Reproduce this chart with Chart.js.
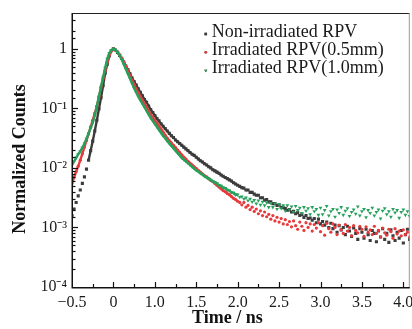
<!DOCTYPE html>
<html><head><meta charset="utf-8">
<script src="https://cdn.jsdelivr.net/npm/chart.js@4.4.1/dist/chart.umd.min.js"></script>
<style>html,body{margin:0;padding:0;background:#fff}canvas{display:block}</style>
</head><body>
<canvas id="c" width="412" height="329"></canvas>
<script>
// ---- data ----
const seriesNames = ['Non-irradiated RPV', 'Irradiated RPV(0.5mm)', 'Irradiated RPV(1.0mm)'];
// position along the time axis (axis tick positions: -0.5, 0, 0.5 ... 3.5)
const timeNs = [
 -0.5,-0.475,-0.45,-0.425,-0.4,-0.375,-0.35,-0.325,-0.3,-0.275,-0.25,-0.225,-0.2,-0.175,-0.15,-0.125,-0.1,-0.075,-0.05,-0.025,
 0,0.025,0.05,0.075,0.1,0.125,0.15,0.175,0.2,0.225,0.25,0.275,0.3,0.325,0.35,0.375,0.4,0.425,0.45,0.475,
 0.5,0.525,0.55,0.575,0.6,0.625,0.65,0.675,0.7,0.725,0.75,0.775,0.8,0.825,0.85,0.875,0.9,0.925,0.95,0.975,
 1,1.025,1.05,1.075,1.1,1.125,1.15,1.175,1.2,1.225,1.25,1.275,1.3,1.325,1.35,1.375,1.4,1.425,1.45,1.475,
 1.5,1.525,1.55,1.575,1.6,1.625,1.65,1.675,1.7,1.725,1.75,1.775,1.8,1.825,1.85,1.875,1.9,1.925,1.95,1.975,
 2,2.025,2.05,2.075,2.1,2.125,2.15,2.175,2.2,2.225,2.25,2.275,2.3,2.325,2.35,2.375,2.4,2.425,2.45,2.475,
 2.5,2.525,2.55,2.575,2.6,2.625,2.65,2.675,2.7,2.725,2.75,2.775,2.8,2.825,2.85,2.875,2.9,2.925,2.95,2.975,
 3,3.025,3.05,3.075,3.1,3.125,3.15,3.175,3.2,3.225,3.25,3.275,3.3,3.325,3.35,3.375,3.4,3.425,3.45,3.475,
 3.5,3.525,3.55,3.575
];
// normalized counts, stored as log10 (decades)
const nonIrradiatedLog10 = [
 -2.80,-2.69,-2.58,-2.47,-2.37,-2.26,-2.15,-2.02,-1.87,-1.71,-1.55,-1.38,-1.20,-1.01,-0.82,-0.62,-0.41,-0.26,-0.12,-0.03,
 0.00,-0.02,-0.06,-0.11,-0.16,-0.22,-0.29,-0.35,-0.42,-0.49,-0.55,-0.61,-0.67,-0.73,-0.79,-0.85,-0.90,-0.96,-1.02,-1.07,
 -1.12,-1.17,-1.21,-1.26,-1.30,-1.34,-1.38,-1.42,-1.46,-1.49,-1.53,-1.56,-1.59,-1.62,-1.65,-1.68,-1.71,-1.74,-1.77,-1.79,
 -1.82,-1.85,-1.88,-1.90,-1.93,-1.95,-1.98,-2.00,-2.03,-2.05,-2.07,-2.09,-2.12,-2.14,-2.16,-2.18,-2.20,-2.22,-2.25,-2.27,
 -2.29,-2.31,-2.33,-2.34,-2.37,-2.37,-2.41,-2.41,-2.44,-2.46,-2.46,-2.50,-2.50,-2.54,-2.53,-2.57,-2.57,-2.60,-2.60,-2.63,
 -2.62,-2.66,-2.67,-2.68,-2.71,-2.70,-2.74,-2.73,-2.77,-2.75,-2.80,-2.78,-2.83,-2.80,-2.85,-2.84,-2.88,-2.85,-2.92,-2.86,
 -2.94,-2.90,-2.96,-2.91,-3.00,-2.93,-3.02,-2.96,-3.08,-2.97,-3.04,-3.00,-3.12,-2.98,-3.06,-3.15,-3.01,-3.10,-3.20,-3.02,
 -3.08,-3.18,-3.03,-3.12,-3.22,-3.05,-3.10,-3.24,-3.06,-3.16,-3.02,-3.20,-3.10,-3.25,-3.04,-3.14,-3.22,-3.08,-3.18,-3.05,
 -3.26,-3.12,-3.03,-3.20
];
const irradiated05Log10 = [
 -2.26,-2.16,-2.06,-1.97,-1.87,-1.76,-1.65,-1.54,-1.43,-1.31,-1.20,-1.08,-0.97,-0.81,-0.65,-0.50,-0.36,-0.22,-0.11,-0.03,
 0.00,-0.02,-0.05,-0.10,-0.16,-0.23,-0.30,-0.37,-0.45,-0.53,-0.60,-0.67,-0.73,-0.80,-0.86,-0.92,-0.98,-1.04,-1.10,-1.15,
 -1.20,-1.25,-1.30,-1.35,-1.40,-1.45,-1.50,-1.54,-1.58,-1.62,-1.66,-1.70,-1.74,-1.78,-1.82,-1.85,-1.89,-1.92,-1.95,-1.98,
 -2.01,-2.04,-2.07,-2.10,-2.13,-2.15,-2.18,-2.21,-2.23,-2.26,-2.29,-2.32,-2.35,-2.38,-2.40,-2.43,-2.45,-2.48,-2.51,-2.53,
 -2.56,-2.58,-2.62,-2.58,-2.66,-2.63,-2.70,-2.66,-2.73,-2.69,-2.77,-2.72,-2.80,-2.74,-2.82,-2.78,-2.86,-2.80,-2.89,-2.83,
 -2.91,-2.85,-2.94,-2.87,-2.95,-2.90,-2.99,-2.89,-2.97,-3.03,-2.91,-2.98,-3.05,-2.92,-3.00,-2.94,-3.06,-2.95,-3.01,-2.92,
 -3.07,-2.97,-3.13,-2.93,-3.02,-3.08,-2.94,-3.00,-3.12,-2.96,-3.04,-3.10,-2.95,-3.06,-3.00,-3.14,-2.97,-3.05,-3.09,-2.98,
 -3.03,-3.15,-2.99,-3.08,-3.04,-3.12,-2.98,-3.10,-3.05,-3.16,-3.01,-3.09,-3.13,-3.03,-3.07,-3.18,-3.02,-3.11,-3.06,-3.14,
 -3.04,-3.12,-3.08,-3.16
];
const irradiated10Log10 = [
 -1.95,-1.89,-1.83,-1.77,-1.72,-1.66,-1.59,-1.51,-1.42,-1.33,-1.24,-1.12,-0.96,-0.80,-0.64,-0.48,-0.32,-0.17,-0.07,-0.02,
 0.00,-0.02,-0.06,-0.11,-0.18,-0.26,-0.34,-0.42,-0.50,-0.58,-0.66,-0.73,-0.80,-0.86,-0.92,-0.98,-1.04,-1.10,-1.16,-1.21,
 -1.26,-1.31,-1.36,-1.41,-1.46,-1.50,-1.55,-1.59,-1.63,-1.67,-1.71,-1.75,-1.79,-1.83,-1.86,-1.89,-1.92,-1.95,-1.98,-2.01,
 -2.04,-2.06,-2.09,-2.11,-2.14,-2.16,-2.18,-2.20,-2.22,-2.24,-2.26,-2.29,-2.30,-2.33,-2.34,-2.37,-2.38,-2.41,-2.42,-2.45,
 -2.45,-2.49,-2.48,-2.52,-2.50,-2.55,-2.52,-2.57,-2.54,-2.60,-2.55,-2.62,-2.57,-2.63,-2.58,-2.66,-2.59,-2.66,-2.60,-2.69,
 -2.61,-2.68,-2.63,-2.72,-2.63,-2.70,-2.65,-2.74,-2.64,-2.71,-2.67,-2.76,-2.66,-2.72,-2.68,-2.78,-2.66,-2.73,-2.69,-2.79,
 -2.67,-2.78,-2.71,-2.64,-2.80,-2.73,-2.69,-2.82,-2.70,-2.76,-2.66,-2.79,-2.72,-2.68,-2.81,-2.74,-2.70,-2.77,-2.65,-2.80,
 -2.73,-2.69,-2.83,-2.71,-2.76,-2.67,-2.80,-2.74,-2.70,-2.85,-2.72,-2.68,-2.78,-2.73,-2.82,-2.69,-2.75,-2.71,-2.84,-2.74,
 -2.70,-2.79,-2.73,-2.81
];
const xTickLabels = ['\u22120.5', '0', '1.0', '1.5', '2.0', '2.5', '3.0', '3.5', '4.0'];
const yTickExponents = [-4, -3, -2, -1, 0];
const yTickLabels = ['10\u207B\u2074', '10\u207B\u00B3', '10\u207B\u00B2', '10\u207B\u00B9', '1'];
const xTitle = 'Time / ns';
const yTitle = 'Normalized Counts';

// ---- styles ----
const SERIF = "'Liberation Serif', 'Times New Roman', serif";
const colors = ['#3c3c3c', '#e83a3c', '#27a05c'];
const pointStyles = [
  { pointStyle: 'rect', radius: 2.2, rotation: 0 },
  { pointStyle: 'circle', radius: 1.6, rotation: 0 },
  { pointStyle: 'triangle', radius: 2.2, rotation: 180 }
];
const lineRanges = [[-0.3, 1.5], [-0.5, 1.5], [-0.5, 1.5]];
const valueSets = [nonIrradiatedLog10, irradiated05Log10, irradiated10Log10];
const drawOrder = [2, 1, 0]; // green on top

const datasets = valueSets.map((vals, k) => ({
  label: seriesNames[k],
  data: timeNs.map((t, i) => ({ x: t, y: Math.pow(10, vals[i]) })),
  showLine: true,
  borderWidth: 2.4,
  borderColor: colors[k],
  segment: {
    borderColor: ctx => (ctx.p0.parsed.x >= lineRanges[k][0] && ctx.p1.parsed.x <= lineRanges[k][1]) ? colors[k] : 'rgba(0,0,0,0)'
  },
  pointStyle: pointStyles[k].pointStyle,
  pointRadius: pointStyles[k].radius,
  pointRotation: pointStyles[k].rotation,
  pointBackgroundColor: colors[k],
  pointBorderWidth: 0,
  pointHoverRadius: pointStyles[k].radius,
  order: drawOrder[k]
}));

const decor = {
  id: 'decor',
  afterDraw(chart) {
    const { ctx, chartArea: a, scales: { x, y } } = chart;
    ctx.save();
    // frame: top and right
    ctx.lineWidth = 1;
    ctx.strokeStyle = '#222';
    ctx.beginPath(); ctx.moveTo(a.left, a.top + 0.5); ctx.lineTo(a.right, a.top + 0.5); ctx.stroke();
    ctx.strokeStyle = '#999';
    ctx.beginPath(); ctx.moveTo(a.right - 0.5, a.top); ctx.lineTo(a.right - 0.5, a.bottom); ctx.stroke();
    // left & bottom axis lines
    ctx.strokeStyle = '#111';
    ctx.lineWidth = 1.5;
    ctx.beginPath(); ctx.moveTo(a.left + 0.25, a.top); ctx.lineTo(a.left + 0.25, a.bottom + 0.75); ctx.lineTo(a.right, a.bottom + 0.75); ctx.stroke();
    // inward ticks
    ctx.lineWidth = 1.2;
    x.ticks.forEach(t => {
      const q = Math.round(t.value / 0.25);
      if (Math.abs(t.value - q * 0.25) > 1e-6) return;
      const major = Math.abs(q) % 2 === 0;
      const px = Math.round(x.getPixelForValue(t.value)) + 0.5;
      if (px <= a.left + 1 || px >= a.right - 1) return;
      ctx.beginPath(); ctx.moveTo(px, a.bottom); ctx.lineTo(px, a.bottom - (major ? 5 : 3)); ctx.stroke();
    });
    y.ticks.forEach(t => {
      const e = Math.log10(t.value);
      const major = Math.abs(e - Math.round(e)) < 1e-6;
      const py = Math.round(y.getPixelForValue(t.value)) + 0.5;
      if (py <= a.top + 1 || py >= a.bottom - 1) return;
      ctx.beginPath(); ctx.moveTo(a.left, py); ctx.lineTo(a.left + (major ? 6 : 3.5), py); ctx.stroke();
    });
    // legend
    ctx.font = '18px ' + SERIF;
    ctx.fillStyle = '#1a1a1a';
    ctx.textBaseline = 'middle';
    ctx.textAlign = 'left';
    const lx = a.right - 204, ly0 = a.top + 19, dy = 18.3;
    seriesNames.forEach((name, k) => {
      const yy = ly0 + k * dy;
      Chart.helpers.drawPoint(ctx, { pointStyle: pointStyles[k].pointStyle, radius: pointStyles[k].radius * 0.8, rotation: pointStyles[k].rotation, borderWidth: 0 }, lx, yy + 2);
      ctx.fillStyle = colors[k];
      ctx.fill();
      ctx.fillStyle = '#1a1a1a';
      ctx.fillText(name, lx + 6, yy);
    });
    ctx.restore();
  }
};

new Chart(document.getElementById('c'), {
  type: 'scatter',
  data: { datasets },
  options: {
    responsive: false,
    animation: false,
    devicePixelRatio: 1,
    layout: { padding: { top: 13, right: 1, left: 0, bottom: 0 } },
    plugins: { legend: { display: false }, tooltip: { enabled: false } },
    scales: {
      x: {
        type: 'linear', min: -0.5, max: 3.578,
        afterFit: s => { s.height = 42; s.paddingLeft = 0; s.paddingRight = 0; },
        grid: { display: false, drawTicks: false },
        border: { display: false },
        ticks: {
          stepSize: 0.25, includeBounds: false, autoSkip: false, maxRotation: 0, padding: 6,
          color: '#1a1a1a', font: { family: SERIF, size: 16 },
          callback: v => {
            const idx = Math.round((v + 0.5) / 0.5);
            return Math.abs((v + 0.5) / 0.5 - idx) < 1e-6 && idx < xTickLabels.length ? xTickLabels[idx] : '';
          }
        },
        title: { display: true, text: xTitle + '\u00A0\u00A0\u00A0\u00A0\u00A0\u00A0', color: '#111', font: { family: SERIF, size: 18, weight: 'bold' }, padding: { top: 0, bottom: 0 } }
      },
      y: {
        type: 'logarithmic', min: 1e-4, max: 4,
        afterFit: s => { s.width = 72; s.paddingTop = 0; s.paddingBottom = 0; },
        grid: { display: false, drawTicks: false },
        border: { display: false },
        ticks: {
          autoSkip: false, padding: 5,
          color: '#1a1a1a', font: { family: SERIF, size: 16 },
          callback: v => {
            const e = Math.log10(v);
            const r = Math.round(e);
            if (Math.abs(e - r) > 1e-6) return '';
            const idx = yTickExponents.indexOf(r);
            return idx >= 0 ? yTickLabels[idx] : '';
          }
        },
        title: { display: true, text: yTitle + '\u00A0\u00A0\u00A0\u00A0', color: '#111', font: { family: SERIF, size: 18, weight: 'bold' }, padding: { top: 10, bottom: 0 } }
      }
    }
  },
  plugins: [decor]
});
</script>
</body></html>
